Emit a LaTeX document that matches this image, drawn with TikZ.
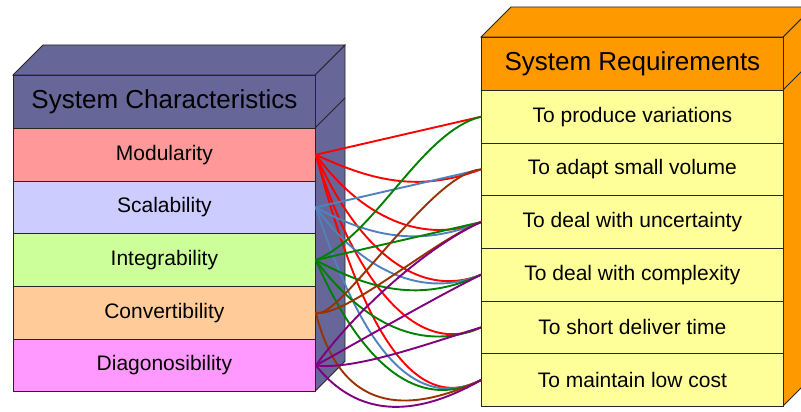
\documentclass[tikz,border=0pt]{standalone}
\usepackage{fontspec}
\setmainfont{Liberation Sans}
\definecolor{slate}{HTML}{666699}
\definecolor{orng}{HTML}{FF9900}
\definecolor{cmod}{HTML}{FF9999}
\definecolor{cscal}{HTML}{CCCCFF}
\definecolor{cint}{HTML}{CCFF99}
\definecolor{cconv}{HTML}{FFCC99}
\definecolor{cdiag}{HTML}{FF99FF}
\definecolor{creq}{HTML}{FFFF99}
\definecolor{lred}{HTML}{FF0000}
\definecolor{lblue}{HTML}{4F81BD}
\definecolor{lgreen}{HTML}{008000}
\definecolor{lbrown}{HTML}{993300}
\definecolor{lpurple}{HTML}{800080}
\begin{document}
\begin{tikzpicture}[x=1pt,y=-1pt,
  boxface/.style={draw=black!85, line width=0.8pt, line join=miter},
  hdr/.style={boxface, anchor=north west, minimum width=302pt, minimum height=53pt, inner sep=0pt, font=\fontsize{26}{30}\selectfont},
  rowbox/.style={boxface, anchor=north west, minimum width=302pt, minimum height=52.67pt, inner sep=0pt, font=\fontsize{21}{25}\selectfont},
  conn/.style={line width=1.9pt, line cap=round}]
\useasboundingbox (0,0) rectangle (801,412);
\clip (0,0) rectangle (801,412);
% left 3D box
\draw[boxface, fill=slate] (315,75) -- (345,45) -- (345,361.3) -- (315,391.3) -- cycle;
\draw[boxface, fill=slate] (13,75) -- (43,45) -- (345,45) -- (315,75) -- cycle;
\draw[boxface] (315,128) -- (345,98);
\node[hdr, fill=slate] (lhead) at (13,75) {System Characteristics};
\node[rowbox, fill=cmod]  (m) at (13,128)    {Modularity};
\node[rowbox, fill=cscal] (s) at (13,180.67) {Scalability};
\node[rowbox, fill=cint]  (i) at (13,233.33) {Integrability};
\node[rowbox, fill=cconv] (c) at (13,286)    {Convertibility};
\node[rowbox, fill=cdiag] (d) at (13,338.67) {Diagonosibility};
% right 3D box
\draw[boxface, fill=orng] (783,37) -- (813,7) -- (813,376) -- (783,406) -- cycle;
\draw[boxface, fill=orng] (481,37) -- (511,7) -- (813,7) -- (783,37) -- cycle;
\draw[boxface] (783,90) -- (813,60);
\node[hdr, fill=orng] (rhead) at (481,37) {System Requirements};
\node[rowbox, fill=creq] (t1) at (481,90)     {To produce variations};
\node[rowbox, fill=creq] (t2) at (481,142.67) {To adapt small volume};
\node[rowbox, fill=creq] (t3) at (481,195.33) {To deal with uncertainty};
\node[rowbox, fill=creq] (t4) at (481,248)    {To deal with complexity};
\node[rowbox, fill=creq] (t5) at (481,300.67) {To short deliver time};
\node[rowbox, fill=creq] (t6) at (481,353.33) {To maintain low cost};
% red (Modularity)
\draw[conn, lred] (m.east) -- (t1.west);
\draw[conn, lred] (m.east) .. controls +(60,28) and +(-60,22) .. (t2.west);
\draw[conn, lred] (m.east) .. controls +(40,55) and +(-65,25) .. (t3.west);
\draw[conn, lred] (m.east) .. controls +(35,80) and +(-70,28) .. (t4.west);
\draw[conn, lred] (m.east) .. controls +(30,100) and +(-75,35) .. (t5.west);
\draw[conn, lred] (m.east) .. controls +(30,110) and +(-85,45) .. (t6.west);
% blue (Scalability)
\draw[conn, lblue] (s.east) -- (t2.west);
\draw[conn, lblue] (s.east) .. controls +(55,30) and +(-60,25) .. (t3.west);
\draw[conn, lblue] (s.east) .. controls +(40,55) and +(-65,27) .. (t4.west);
\draw[conn, lblue] (s.east) .. controls +(30,90) and +(-85,42) .. (t6.west);
% green (Integrability)
\draw[conn, lgreen] (i.east) .. controls +(60,-25) and +(-60,15) .. (t1.west);
\draw[conn, lgreen] (i.east) -- (t3.west);
\draw[conn, lgreen] (i.east) .. controls +(55,30) and +(-60,28) .. (t4.west);
\draw[conn, lgreen] (i.east) .. controls +(40,55) and +(-65,28) .. (t5.west);
\draw[conn, lgreen] (i.east) .. controls +(35,80) and +(-75,38) .. (t6.west);
% brown (Convertibility)
\draw[conn, lbrown] (c.east) .. controls +(22,10) and +(-50,3) .. (t2.west);
\draw[conn, lbrown] (c.east) .. controls +(30,5) and +(-50,20) .. (t3.west);
\draw[conn, lbrown] (c.east) .. controls +(25,100) and +(-75,35) .. (t6.west);
% purple (Diagonosibility)
\draw[conn, lpurple] (d.east) .. controls +(40,-55) and +(-55,25) .. (t3.west);
\draw[conn, lpurple] (d.east) .. controls +(45,-25) and +(-50,25) .. (t4.west);
\draw[conn, lpurple] (d.east) .. controls +(40,5) and +(-50,15) .. (t5.west);
\draw[conn, lpurple] (d.east) .. controls +(40,50) and +(-70,40) .. (t6.west);
\end{tikzpicture}
\end{document}
